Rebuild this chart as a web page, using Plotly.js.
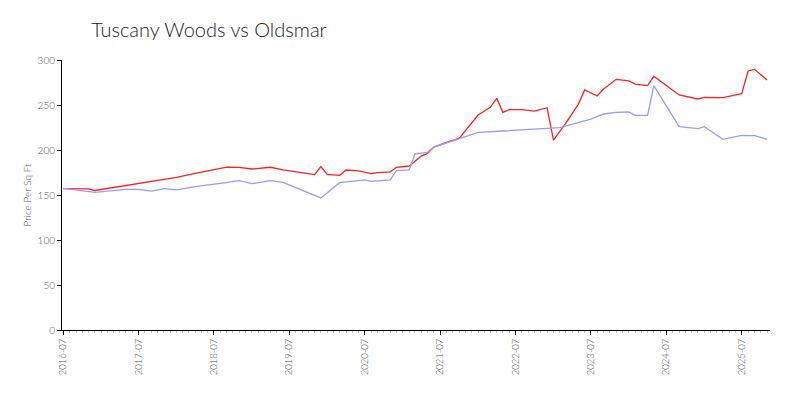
<!DOCTYPE html>
<html>
<head>
<meta charset="utf-8">
<script src="https://cdn.plot.ly/plotly-3.0.1.min.js"></script>
<style>html,body{margin:0;padding:0;background:#fff}#chart{width:800px;height:400px}</style>
</head>
<body>
<div id="chart"></div>
<script>
const chartTitle = "Tuscany Woods vs Oldsmar";
const yAxisTitle = "Price Per Sq Ft";

const tuscanyDates = ["2016-07-01","2016-11-01","2016-12-01","2017-05-01","2017-07-01","2017-10-01","2018-01-01","2018-04-01","2018-07-01","2018-09-01","2018-11-01","2019-01-01","2019-04-01","2019-06-01","2019-11-01","2019-12-01","2020-01-01","2020-03-01","2020-04-01","2020-06-01","2020-08-01","2020-09-01","2020-11-01","2020-12-01","2021-02-01","2021-04-01","2021-05-01","2021-06-01","2021-08-01","2021-10-01","2022-01-01","2022-03-01","2022-04-01","2022-05-01","2022-06-01","2022-08-01","2022-10-01","2022-12-01","2023-01-01","2023-03-01","2023-05-01","2023-06-01","2023-08-01","2023-09-01","2023-11-01","2024-01-01","2024-02-01","2024-04-01","2024-05-01","2024-09-01","2024-12-01","2025-01-01","2025-04-01","2025-07-01","2025-08-01","2025-09-01","2025-11-01"];
const tuscanyValues = [157,156.7,155,160.8,163,166,169.6,174,178,181,180.8,178.9,180.8,177.8,172.6,181.5,173,171.9,177.8,176.7,173.7,174.8,175.6,180.8,182.2,193.3,196.3,203.3,208.5,212.9,238.9,247.4,257.4,241.9,244.8,244.8,243.3,247,211.1,229.6,250.7,266.7,260,267.8,278.5,276.7,273.3,271.5,281.9,261.1,256.7,258.5,258.1,262.6,287.8,289.6,277.8];

const oldsmarDates = ["2016-07-01","2016-12-01","2017-05-01","2017-07-01","2017-09-01","2017-11-01","2018-01-01","2018-04-01","2018-08-01","2018-11-01","2019-01-01","2019-04-01","2019-06-01","2019-12-01","2020-03-01","2020-05-01","2020-07-01","2020-08-01","2020-11-01","2020-12-01","2021-02-01","2021-03-01","2021-05-01","2021-06-01","2021-10-01","2022-01-01","2022-05-01","2022-10-01","2023-02-01","2023-07-01","2023-09-01","2023-11-01","2024-01-01","2024-02-01","2024-04-01","2024-05-01","2024-09-01","2024-12-01","2025-01-01","2025-04-01","2025-07-01","2025-09-01","2025-11-01"];
const oldsmarValues = [157.4,153,156.3,156.3,154.4,157,155.6,159.3,163,165.9,162.6,165.9,164.1,146.7,163.7,164.8,166.7,165.2,166.7,177,177.8,195.6,197.4,203.3,212.2,219.6,221.1,223.3,224.8,234.4,240,241.9,242.2,238.5,238.5,271.5,225.9,223.7,225.9,211.9,216.3,215.9,211.9];

const fontFam = "Lato, 'Open Sans', sans-serif";

const traces = [
  {x: tuscanyDates, y: tuscanyValues, type: "scatter", mode: "lines", name: "Tuscany Woods",
   line: {color: "#ff2020", width: 1.3}},
  {x: oldsmarDates, y: oldsmarValues, type: "scatter", mode: "lines", name: "Oldsmar",
   line: {color: "#9a9aff", width: 1.3}}
];

const layout = {
  width: 800, height: 400,
  paper_bgcolor: "#fff", plot_bgcolor: "#fff",
  showlegend: false,
  margin: {l: 62, r: 30, t: 60, b: 70},
  title: {text: chartTitle, x: 0.114, xanchor: "left", y: 0.925, yanchor: "middle",
          font: {family: fontFam, size: 20, color: "#222", weight: 300}},
  xaxis: {
    type: "date", range: ["2016-06-25", "2025-11-15"],
    tick0: "2016-07-01", dtick: "M12", tickformat: "%Y-%m", tickangle: -90,
    showgrid: false, zeroline: false, showline: true, linecolor: "#000", linewidth: 1,
    ticks: "outside", ticklen: 4, tickcolor: "#000",
    tickfont: {family: fontFam, size: 9.5, color: "#555", weight: 300},
    minor: {dtick: "M1", tick0: "2016-07-01", ticks: "outside", ticklen: 2, tickcolor: "#bbb", showgrid: false}
  },
  yaxis: {
    range: [0, 300], dtick: 50, tick0: 0,
    showgrid: false, zeroline: false, showline: true, linecolor: "#000", linewidth: 1,
    ticks: "outside", ticklen: 4, tickcolor: "#000",
    tickfont: {family: fontFam, size: 10, color: "#555", weight: 300},
    title: {text: yAxisTitle, standoff: 4, font: {family: fontFam, size: 10, color: "#555", weight: 300}}
  }
};

Plotly.newPlot("chart", traces, layout, {displayModeBar: false, staticPlot: true});
</script>
</body>
</html>
